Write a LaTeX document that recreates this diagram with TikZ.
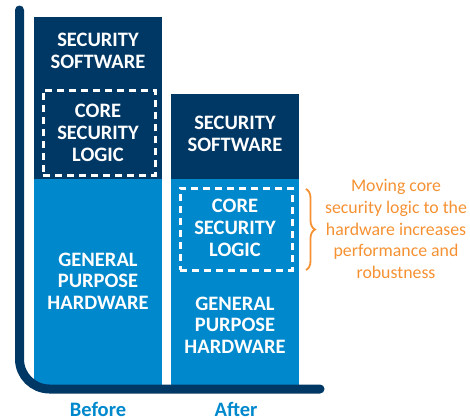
\documentclass[tikz,border=0pt]{standalone}
\usepackage{fontspec}
\setmainfont{Carlito}
\usetikzlibrary{decorations.pathreplacing}
\definecolor{navy}{RGB}{0,56,101}
\definecolor{cblue}{RGB}{0,136,204}
\definecolor{corange}{RGB}{245,145,50}
\begin{document}
\begin{tikzpicture}[x=1pt,y=-1pt,
  bar/.style={draw=none, inner sep=0pt, outer sep=0pt, anchor=north west, minimum width=128pt},
  dbox/.style={draw=white, line width=2.6pt, dash pattern=on 7pt off 5pt, inner sep=0pt, anchor=north west, minimum width=112pt},
  lbl/.style={text=white, font=\fontsize{20.5}{21.7}\selectfont\bfseries, align=center, inner sep=0pt},
  axlbl/.style={text=cblue, font=\fontsize{20.5}{21.7}\selectfont\bfseries, inner sep=0pt},
  note/.style={text=corange, font=\fontsize{17.8}{21.6}\selectfont, align=center, inner sep=0pt}
]
\useasboundingbox (0,0) rectangle (470,418);
% bars
\node[bar, fill=navy, minimum height=162pt] (ltop) at (34,17) {};
\node[bar, fill=cblue, minimum height=210pt] (lbot) at (34,179) {};
\node[bar, fill=navy, minimum height=85pt] (rtop) at (171,94) {};
\node[bar, fill=cblue, minimum height=210pt] (rbot) at (171,179) {};
% dashed boxes
\node[dbox, minimum height=85pt] (lcore) at (42,89) {};
\node[dbox, minimum height=82pt] (rcore) at (179,187) {};
% labels
\node[lbl] (lss) at (98,51) {SECURITY\\SOFTWARE};
\node[lbl] (lcsl) at (98,133) {CORE\\SECURITY\\LOGIC};
\node[lbl] (lgph) at (98,281) {GENERAL\\PURPOSE\\HARDWARE};
\node[lbl] (rss) at (235,134) {SECURITY\\SOFTWARE};
\node[lbl] (rcsl) at (235,228) {CORE\\SECURITY\\LOGIC};
\node[lbl] (rgph) at (235,325) {GENERAL\\PURPOSE\\HARDWARE};
% axis
\coordinate (ytop) at (19.5,10);
\coordinate (xend) at (320,389);
\draw[navy, line width=9pt, line cap=round, rounded corners=30pt] (ytop) |- (xend);
\node[axlbl] (before) at (98,409) {Before};
\node[axlbl] (after) at (236,409) {After};
% brace and note
\coordinate (bt) at (306,189);
\coordinate (bb) at (306,270);
\draw[corange, line width=1.8pt, decorate, decoration={brace, amplitude=9pt}] (bt) -- (bb);
\node[note] (txt) at (396,229) {Moving core\\security logic to the\\hardware increases\\performance and\\robustness};
\end{tikzpicture}
\end{document}
